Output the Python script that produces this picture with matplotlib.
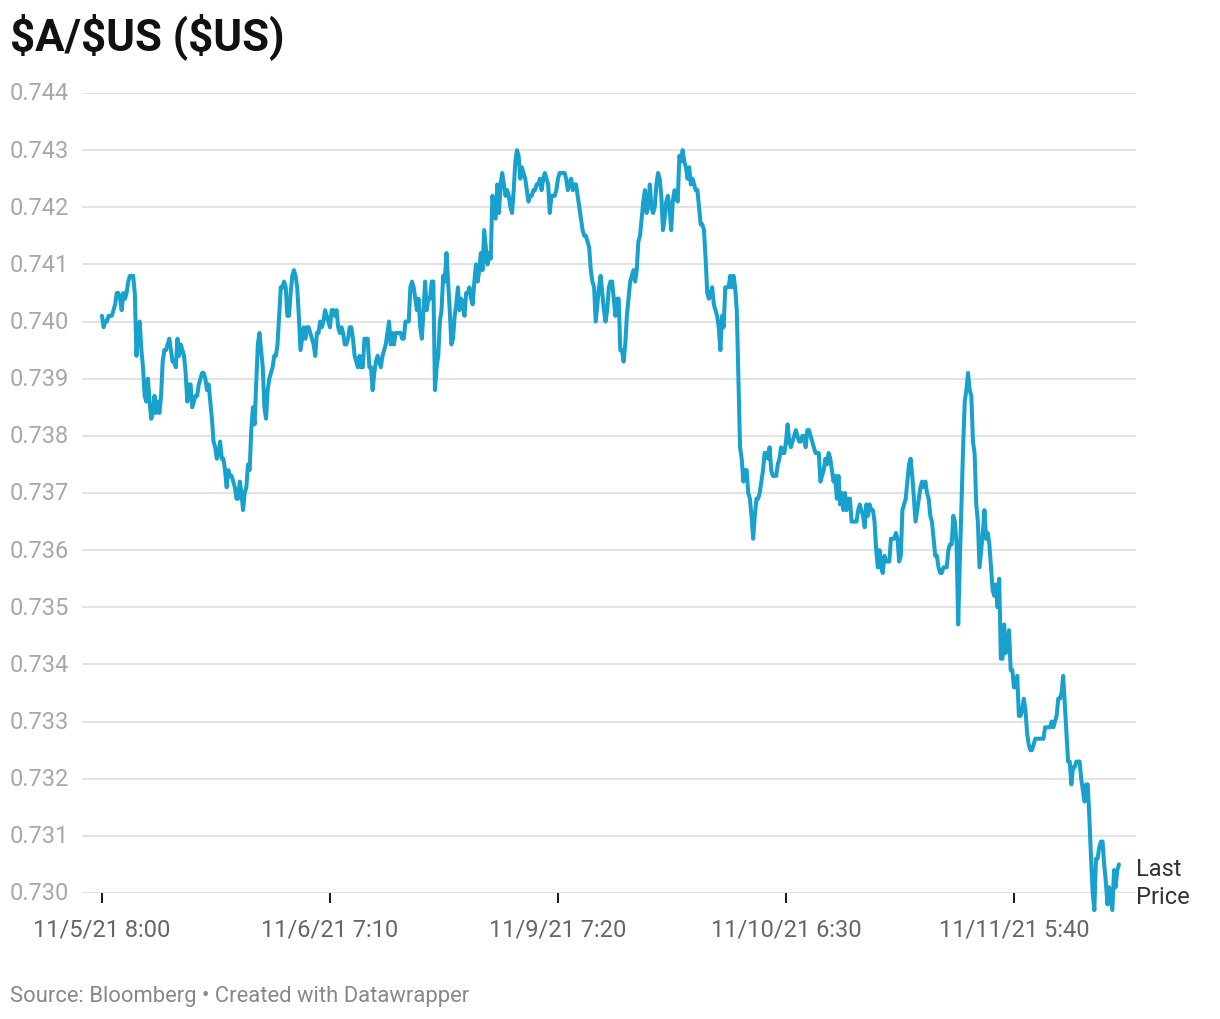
import matplotlib
matplotlib.use("Agg")
import matplotlib.pyplot as plt
import matplotlib.transforms as mtransforms
import numpy as np

plt.rcParams["font.family"] = ["Roboto", "DejaVu Sans"]

# A$/US$ price, one value per bar
seg1 = [0.7401, 0.7399, 0.7400, 0.7400, 0.7401, 0.7401, 0.7401, 0.7402, 0.7403, 0.7405,
        0.7405, 0.7404, 0.7402, 0.7405, 0.7404, 0.7405, 0.7407, 0.7408, 0.7408, 0.7408,
        0.7405, 0.7394, 0.7399, 0.7400, 0.7395, 0.7392, 0.7387, 0.7386, 0.7390, 0.7386,
        0.7383, 0.7384, 0.7387, 0.7384, 0.7386, 0.7384, 0.7387, 0.7393, 0.7395, 0.7395,
        0.7396, 0.7397, 0.7395, 0.7393, 0.7393, 0.7392, 0.7397, 0.7394, 0.7396, 0.7395,
        0.7394, 0.7391, 0.7386, 0.7389, 0.7389, 0.7385, 0.7386, 0.7387, 0.7387, 0.7389,
        0.7390, 0.7391, 0.7391, 0.7390, 0.7388, 0.7389, 0.7386, 0.7383, 0.7379, 0.7378,
        0.7376, 0.7377, 0.7379, 0.7376, 0.7376, 0.7374, 0.7371, 0.7374, 0.7373, 0.7373,
        0.7372, 0.7371, 0.7369, 0.7369, 0.7372, 0.7370, 0.7367, 0.7370, 0.7371, 0.7375,
        0.7374, 0.7381, 0.7385, 0.7382, 0.7389, 0.7396, 0.7398, 0.7395, 0.7392, 0.7385,
        0.7383]
seg2 = [0.7388, 0.7390, 0.7391, 0.7392, 0.7394, 0.7394, 0.7396, 0.7401, 0.7406, 0.7406,
        0.7407, 0.7406, 0.7401, 0.7401, 0.7405, 0.7408, 0.7409, 0.7408, 0.7406, 0.7401,
        0.7395, 0.7397, 0.7399, 0.7397, 0.7399, 0.7399, 0.7398, 0.7397, 0.7396, 0.7394,
        0.7398, 0.7398, 0.7400, 0.7399, 0.7400, 0.7402, 0.7401, 0.7400, 0.7399, 0.7402,
        0.7402, 0.7401, 0.7402, 0.7399, 0.7398, 0.7399, 0.7398, 0.7396, 0.7396, 0.7397,
        0.7399, 0.7399, 0.7397, 0.7394, 0.7393, 0.7392, 0.7394, 0.7392, 0.7392, 0.7397,
        0.7397, 0.7397, 0.7392, 0.7392, 0.7388, 0.7391, 0.7393, 0.7394, 0.7393, 0.7392,
        0.7394, 0.7395, 0.7396, 0.7398, 0.7400, 0.7396, 0.7398, 0.7396, 0.7398, 0.7398,
        0.7398, 0.7398, 0.7397, 0.7397, 0.7400, 0.7400, 0.7400, 0.7406, 0.7407, 0.7406,
        0.7404, 0.7402, 0.7404, 0.7399, 0.7397, 0.7402, 0.7407, 0.7402, 0.7404, 0.7404,
        0.7407, 0.7407, 0.7388, 0.7392, 0.7394, 0.7400, 0.7402]
seg3 = [0.7408, 0.7407, 0.7412, 0.7407, 0.7402, 0.7396, 0.7397, 0.7401, 0.7403, 0.7406,
        0.7402, 0.7404, 0.7403, 0.7401, 0.7405, 0.7405, 0.7406, 0.7404, 0.7403, 0.7407,
        0.7410, 0.7407, 0.7409, 0.7412, 0.7409, 0.7416, 0.7413, 0.7410, 0.7412, 0.7411,
        0.7422, 0.7420, 0.7418, 0.7424, 0.7419, 0.7424, 0.7426, 0.7424, 0.7422, 0.7423,
        0.7422, 0.7420, 0.7419, 0.7423, 0.7428, 0.7430, 0.7429, 0.7425, 0.7427, 0.7426,
        0.7425, 0.7423, 0.7421, 0.7422, 0.7422, 0.7423, 0.7423, 0.7424, 0.7424, 0.7425,
        0.7423, 0.7425, 0.7426, 0.7425, 0.7424, 0.7419, 0.7422, 0.7422, 0.7422, 0.7423,
        0.7425, 0.7426, 0.7426, 0.7426, 0.7426, 0.7425, 0.7423, 0.7424, 0.7425, 0.7423,
        0.7424, 0.7424, 0.7422, 0.7420, 0.7418, 0.7416, 0.7415, 0.7415, 0.7414, 0.7413,
        0.7409, 0.7407, 0.7406, 0.7400]
seg4 = [0.7403, 0.7406, 0.7408, 0.7405, 0.7402, 0.7400, 0.7402, 0.7406, 0.7407, 0.7407,
        0.7404, 0.7401, 0.7404, 0.7404, 0.7395, 0.7395, 0.7393, 0.7396, 0.7401, 0.7404,
        0.7407, 0.7408, 0.7409, 0.7407, 0.7409, 0.7414, 0.7415, 0.7418, 0.7421, 0.7423,
        0.7419, 0.7420, 0.7424, 0.7420, 0.7419, 0.7420, 0.7424, 0.7426, 0.7425, 0.7422,
        0.7416, 0.7418, 0.7421, 0.7422, 0.7420, 0.7416, 0.7421, 0.7423, 0.7422, 0.7421,
        0.7429, 0.7428, 0.7430, 0.7428, 0.7427, 0.7425, 0.7427, 0.7424, 0.7425, 0.7424,
        0.7423, 0.7423, 0.7420, 0.7417, 0.7417, 0.7416, 0.7411, 0.7405, 0.7404, 0.7405,
        0.7406, 0.7403, 0.7402, 0.7401, 0.7399, 0.7395, 0.7401, 0.7399, 0.7406, 0.7406,
        0.7406, 0.7408, 0.7406, 0.7408, 0.7406, 0.7402, 0.7390, 0.7378, 0.7376, 0.7372,
        0.7374, 0.7374, 0.7370, 0.7369, 0.7366, 0.7362, 0.7366, 0.7369]
seg5 = [0.7369, 0.7370, 0.7372, 0.7374, 0.7377, 0.7377, 0.7376, 0.7378, 0.7374, 0.7373,
        0.7373, 0.7373, 0.7375, 0.7376, 0.7378, 0.7377, 0.7377, 0.7379, 0.7382, 0.7379,
        0.7378, 0.7379, 0.7380, 0.7381, 0.7380, 0.7379, 0.7379, 0.7380, 0.7380, 0.7378,
        0.7381, 0.7381, 0.7380, 0.7379, 0.7378, 0.7377, 0.7377, 0.7377, 0.7372, 0.7373,
        0.7374, 0.7376, 0.7375, 0.7377, 0.7376, 0.7374, 0.7372, 0.7373, 0.7369, 0.7373,
        0.7368, 0.7370, 0.7367, 0.7370, 0.7367, 0.7369, 0.7369, 0.7365, 0.7365, 0.7365,
        0.7365, 0.7367, 0.7368, 0.7367, 0.7366, 0.7364, 0.7368, 0.7366, 0.7368, 0.7367,
        0.7367, 0.7365, 0.7360, 0.7357, 0.7360, 0.7357, 0.7356, 0.7359, 0.7358, 0.7358,
        0.7358, 0.7362, 0.7362, 0.7362, 0.7363, 0.7362, 0.7358, 0.7359, 0.7367, 0.7368,
        0.7369, 0.7372, 0.7375, 0.7376, 0.7373, 0.7369, 0.7365, 0.7367, 0.7369, 0.7371,
        0.7372, 0.7371, 0.7372, 0.7370, 0.7369, 0.7366, 0.7365, 0.7362, 0.7359, 0.7359,
        0.7357, 0.7356, 0.7356, 0.7357, 0.7357, 0.7357, 0.7360, 0.7361, 0.7361, 0.7366]
seg6 = [0.7365, 0.7361, 0.7347, 0.7358, 0.7368, 0.7378, 0.7386, 0.7388, 0.7391, 0.7388,
        0.7387, 0.7379, 0.7377, 0.7368, 0.7365, 0.7357, 0.7360, 0.7363, 0.7367, 0.7362,
        0.7363, 0.7361, 0.7357, 0.7353, 0.7352, 0.7354, 0.7350, 0.7355, 0.7341, 0.7341,
        0.7347, 0.7342, 0.7343, 0.7346, 0.7339, 0.7339, 0.7336, 0.7336, 0.7338, 0.7331,
        0.7331, 0.7332, 0.7334, 0.7332, 0.7328, 0.7326, 0.7325, 0.7325, 0.7326, 0.7327,
        0.7327, 0.7327, 0.7327, 0.7327, 0.7327, 0.7329, 0.7329, 0.7329, 0.7329, 0.7330,
        0.7329, 0.7330, 0.7331, 0.7334, 0.7334, 0.7335, 0.7338, 0.7333, 0.7328, 0.7323,
        0.7323, 0.7319, 0.7322, 0.7322, 0.7323, 0.7323, 0.7323, 0.7320, 0.7318, 0.7316,
        0.7319, 0.7319, 0.7313, 0.7306, 0.7300, 0.7297, 0.7306, 0.7306, 0.7308, 0.7309,
        0.7309, 0.7305, 0.7302, 0.7298, 0.7301, 0.7299, 0.7297, 0.7304, 0.7301, 0.7304,
        0.7305]

price = np.array(seg1 + seg2 + seg3 + seg4 + seg5 + seg6)
bars = np.arange(len(price))

tick_index = [0, 139, 278, 417, 556]
tick_labels = ["11/5/21 8:00", "11/6/21 7:10", "11/9/21 7:20", "11/10/21 6:30", "11/11/21 5:40"]
y_ticks = [0.730, 0.731, 0.732, 0.733, 0.734, 0.735, 0.736, 0.737, 0.738,
           0.739, 0.740, 0.741, 0.742, 0.743, 0.744]

W, H = 1220, 1020
fig = plt.figure(figsize=(W / 100, H / 100), dpi=100)
ax = fig.add_axes([82 / W, 1 - 894 / H, (1136 - 82) / W, (894 - 94) / H])

ax.set_ylim(0.730, 0.744)
ax.set_xlim(-12.2, 630.4)

for v in y_ticks:
    ax.axhline(v, color="#e3e3e3", lw=1.4, zorder=0)

ax.plot(bars, price, color="#18a1cd", lw=2.9, clip_on=False,
        solid_joinstyle="round", solid_capstyle="round", zorder=3)

for s in ax.spines.values():
    s.set_visible(False)

ax.set_yticks([])
ax.set_xticks(tick_index)
ax.set_xticklabels(tick_labels, fontsize=17, color="#666666")
ax.tick_params(axis="x", length=7, width=1.5, color="#222222", pad=11)

trans = mtransforms.blended_transform_factory(fig.transFigure, ax.transData)
for v in y_ticks:
    ax.text(10 / W, v, f"{v:.3f}", transform=trans, ha="left", va="center",
            fontsize=17, color="#a8a8a8")

ax.annotate("Last\nPrice", xy=(bars[-1], price[-1]), xytext=(12.5, -13),
            textcoords="offset points", ha="left", va="center",
            fontsize=17, color="#333333", linespacing=1.25)

fig.text(10 / W, 1 - 37 / H, "$A/$US ($US)", fontsize=31.5, fontweight="bold",
         ha="left", va="center", color="#111111")
fig.text(10 / W, 1 - 997 / H, "Source: Bloomberg \u2022 Created with Datawrapper",
         fontsize=15.8, color="#888888", ha="left", va="center")

fig.savefig("out.png", dpi=100)
